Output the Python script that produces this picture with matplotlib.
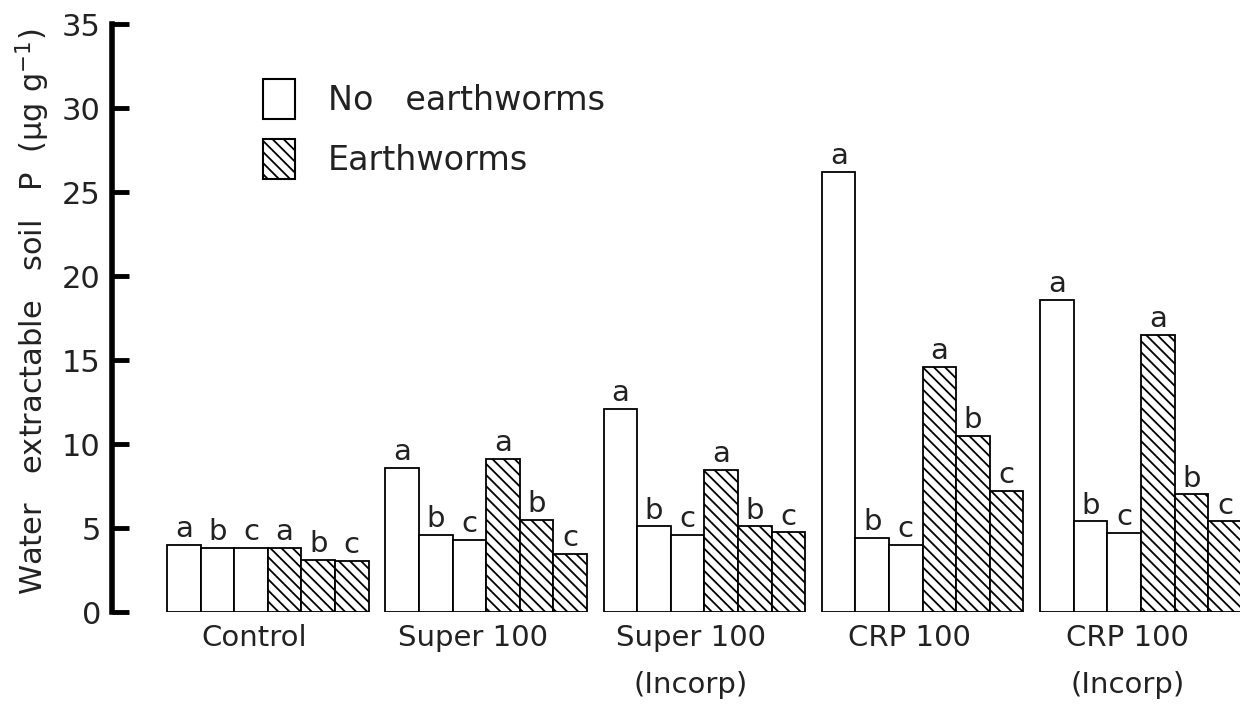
import numpy as np
import matplotlib.pyplot as plt
from matplotlib.patches import Rectangle

groups = ["Control", "Super 100", "Super 100\n(Incorp)", "CRP 100", "CRP 100\n(Incorp)"]

# three bars per treatment, without and with earthworms
no_worms = [
    [4.0, 3.8, 3.8],
    [8.6, 4.6, 4.3],
    [12.1, 5.1, 4.6],
    [26.2, 4.4, 4.0],
    [18.6, 5.4, 4.7],
]
worms = [
    [3.8, 3.1, 3.05],
    [9.1, 5.5, 3.45],
    [8.45, 5.1, 4.75],
    [14.6, 10.5, 7.2],
    [16.5, 7.0, 5.4],
]
letters = ["a", "b", "c"]
legend_labels = ["No   earthworms", "Earthworms"]

plt.rcParams["font.family"] = ["DejaVu Sans"]
plt.rcParams["hatch.linewidth"] = 1.3
txt = "#222222"
hatch = "\\\\\\"

fig = plt.figure(figsize=(12.4, 7.04), dpi=100)
ax = fig.add_axes([112 / 1240, 1 - 612 / 704, 1 - 112 / 1240, 588 / 704])

period = 6.5
for g in range(len(groups)):
    x0 = g * period
    vals = no_worms[g] + worms[g]
    for i, v in enumerate(vals):
        ax.bar(x0 + i, v, width=1.0, facecolor="white", edgecolor="black",
               linewidth=1.3, hatch=hatch if i >= 3 else None)
        ax.text(x0 + i, v + 0.1, letters[i % 3], ha="center", va="bottom",
                fontsize=21, color=txt)

centers = [g * period + 2.5 - 0.4 for g in range(len(groups))]
ax.set_xticks(centers)
ax.set_xticklabels(groups, fontsize=21, color=txt, linespacing=1.85)
ax.tick_params(axis="x", length=0, pad=9)

ax.set_ylim(0, 35)
ax.set_xlim(-2.14, 31.45)
ax.set_yticks(np.arange(0, 36, 5))
ax.tick_params(axis="y", direction="in", length=12, width=3.5, pad=8,
               labelsize=22, labelcolor=txt)

for s in ["top", "right", "bottom"]:
    ax.spines[s].set_visible(False)
ax.spines["left"].set_linewidth(4)

fig.text(33 / 1240, 1 - 312 / 704, "Water   extractable   soil   P  (\u03bcg g$^{-1}$)",
         rotation=90, ha="center", va="center", fontsize=22, color=txt)

# legend drawn by hand in figure pixels
box_tops = [79, 139]
for k, lab in enumerate(legend_labels):
    top = box_tops[k]
    fig.patches.append(Rectangle((263 / 1240, 1 - (top + 40) / 704), 32 / 1240, 40 / 704,
                                 transform=fig.transFigure, facecolor="white",
                                 edgecolor="black", linewidth=1.5,
                                 hatch=hatch if k == 1 else None))
    fig.text(328 / 1240, 1 - (top + 22) / 704, lab, ha="left", va="center",
             fontsize=24, color=txt)

fig.savefig("out.png", dpi=100)
